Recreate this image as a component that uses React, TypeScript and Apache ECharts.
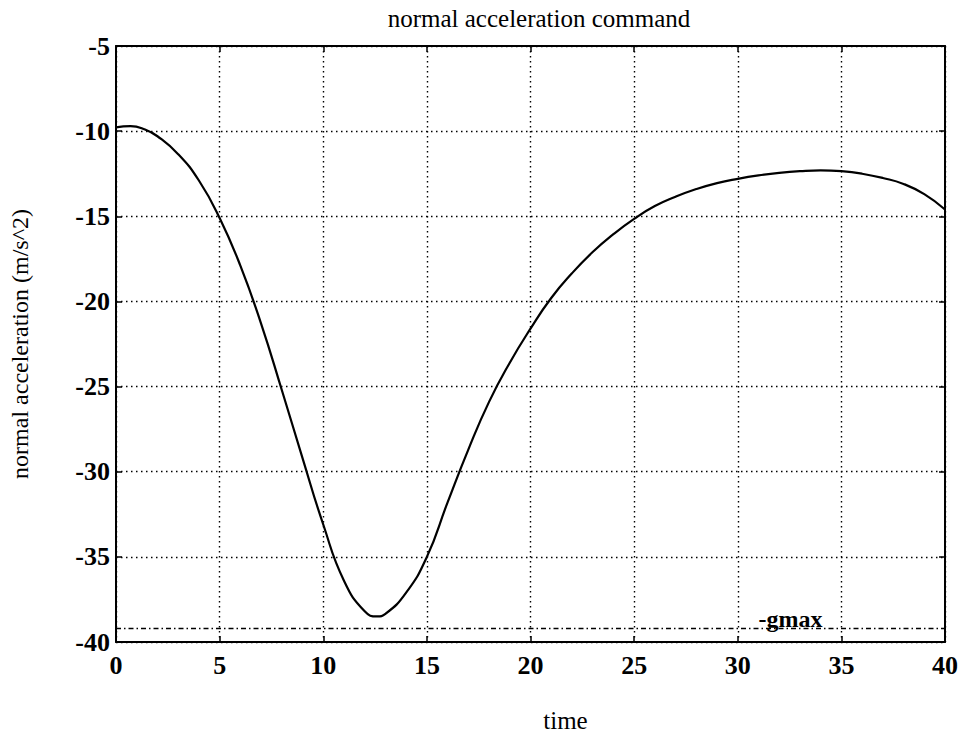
import React, { useEffect, useRef } from "react";
import * as echarts from "echarts";

// Sampled normal acceleration command (m/s^2) over time
const times = [0, 0.7, 1.4, 2, 3, 4, 5, 6, 7, 8, 9, 10, 11, 12, 12.6, 13, 14, 15, 16, 17, 18, 19, 20, 21, 22, 23, 24, 25, 26, 27, 28, 29, 30, 31, 32, 33, 34, 35, 36, 37, 38, 39, 40];
const accel = [-9.78, -9.7, -9.9, -10.3, -11.35, -12.9, -15.1, -17.9, -21.3, -25.2, -29.2, -33.1, -36.4, -38.2, -38.5, -38.35, -37.1, -35.0, -31.8, -28.7, -25.9, -23.6, -21.6, -19.8, -18.35, -17.1, -16.05, -15.15, -14.4, -13.85, -13.4, -13.05, -12.8, -12.6, -12.45, -12.35, -12.3, -12.35, -12.5, -12.75, -13.1, -13.7, -14.6];

// Limit line
const gmaxValue = -39.2;
const gmaxSpan = [0, 40];
const gmaxLabelAt = [31.0, -38.65];

const xTicks = [0, 5, 10, 15, 20, 25, 30, 35, 40];
const yTicks = [-40, -35, -30, -25, -20, -15, -10, -5];

const FONT = '"Liberation Serif", "DejaVu Serif", serif';

export default function App() {
  const ref = useRef<HTMLDivElement>(null);

  useEffect(() => {
    if (!ref.current) return;
    const chart = echarts.init(ref.current, null, { renderer: "svg" });

    const gridLine = { show: true, lineStyle: { color: "#000", width: 1.4, type: [1.5, 3.5] as any } };
    const frame = { show: true, onZero: false, lineStyle: { color: "#000", width: 2 } };
    const tick = { show: true, inside: true, length: 6, lineStyle: { color: "#000", width: 1.5 } };
    const tickFont = { fontFamily: FONT, fontSize: 26, fontWeight: "bold" as const, color: "#000" };

    const curve = times.map((t, i) => [t, accel[i]]);
    const gmaxLine = gmaxSpan.map((t) => [t, gmaxValue]);

    chart.setOption({
      animation: false,
      backgroundColor: "#fff",
      title: {
        text: "normal acceleration command",
        left: 534,
        top: 1,
        textAlign: "center",
        textStyle: { fontFamily: FONT, fontSize: 25, fontWeight: "normal", color: "#000" },
      },
      grid: { left: 106, right: 15, top: 46, bottom: 90 },
      xAxis: [
        {
          type: "value",
          min: xTicks[0],
          max: xTicks[xTicks.length - 1],
          interval: 5,
          axisLine: frame,
          axisTick: tick,
          splitLine: gridLine,
          axisLabel: { ...tickFont, margin: 10 },
          name: "time",
          nameLocation: "middle",
          nameGap: 66,
          nameTextStyle: { fontFamily: FONT, fontSize: 25, color: "#000", padding: [0, 0, 0, 70] },
        },
        {
          type: "value",
          position: "top",
          min: xTicks[0],
          max: xTicks[xTicks.length - 1],
          interval: 5,
          axisLine: frame,
          axisTick: tick,
          splitLine: { show: false },
          axisLabel: { show: false },
        },
      ],
      yAxis: [
        {
          type: "value",
          min: yTicks[0],
          max: yTicks[yTicks.length - 1],
          interval: 5,
          axisLine: frame,
          axisTick: tick,
          splitLine: gridLine,
          axisLabel: { ...tickFont, margin: 6 },
          name: "normal acceleration (m/s^2)",
          nameLocation: "middle",
          nameGap: 84,
          nameRotate: 90,
          nameTextStyle: { fontFamily: FONT, fontSize: 24, color: "#000" },
        },
        {
          type: "value",
          position: "right",
          min: yTicks[0],
          max: yTicks[yTicks.length - 1],
          interval: 5,
          axisLine: frame,
          axisTick: tick,
          splitLine: { show: false },
          axisLabel: { show: false },
        },
      ],
      series: [
        {
          type: "line",
          data: curve,
          smooth: 0.5,
          showSymbol: false,
          lineStyle: { color: "#000", width: 2.2 },
        },
        {
          type: "line",
          data: gmaxLine,
          showSymbol: false,
          lineStyle: { color: "#000", width: 1.5, type: [5, 3, 1.5, 3] as any },
          markPoint: {
            symbol: "circle",
            symbolSize: 0,
            data: [{ coord: gmaxLabelAt }],
            label: {
              show: true,
              formatter: "-gmax",
              position: "right",
              distance: 0,
              fontFamily: FONT,
              fontSize: 24,
              fontWeight: "bold",
              color: "#000",
            },
          },
        },
      ],
    });

    return () => chart.dispose();
  }, []);

  return <div ref={ref} style={{ position: "absolute", left: 0, top: 0, width: 961, height: 738 }} />;
}
